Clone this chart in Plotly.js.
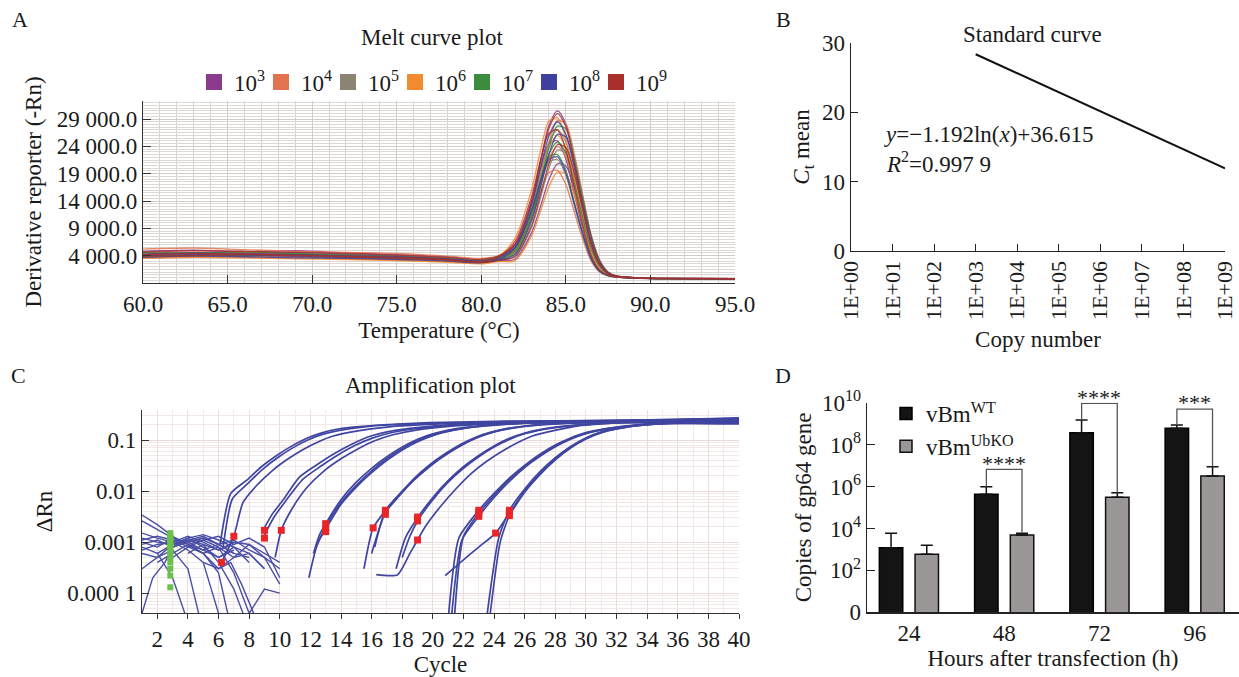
<!DOCTYPE html>
<html><head><meta charset="utf-8">
<script src="https://cdn.plot.ly/plotly-3.0.1.min.js"></script>
<style>html,body{margin:0;padding:0;background:#fff;}#chart{width:1239px;height:677px;}</style>
</head><body><div id="chart"></div>
<script>
// ================= Panel A: melt curves =================
const meltTemp = [60,63,66,69,72,75,78,80,81,82,83,83.5,84,84.5,85,85.5,86,86.5,87,87.5,88,89,91,95];
const meltLabels = ['10<sup>3</sup>','10<sup>4</sup>','10<sup>5</sup>','10<sup>6</sup>','10<sup>7</sup>','10<sup>8</sup>','10<sup>9</sup>'];
const melt1e3 = [
 [4800,5000,4700,4900,4500,4200,3800,3300,3900,6100,14300,21300,27800,30500,28100,21400,13400,6400,2400,760,180,-50,-200,-250],
 [4300,4500,4400,4600,4200,3900,3500,3000,3800,6100,14000,19900,24500,25000,21700,15300,8900,3800,1300,380,100,-100,-150,-300],
 [3900,4100,4000,3800,3700,3500,3200,2800,3100,3400,8400,13000,17900,20800,20400,16400,10900,5700,2300,740,210,0,-150,-200]];
const melt1e4 = [
 [5200,5400,5100,4800,4600,4400,3900,3500,3900,4600,11600,18000,24700,28700,28100,22600,15100,7800,3200,1000,290,0,-200,-250],
 [4000,4200,4300,4100,3900,3600,3300,2900,3400,4800,11300,16800,21800,24000,22100,16800,10600,5000,1900,600,140,-50,-200,-250],
 [3600,3800,3700,3900,3500,3300,3000,2700,3300,4800,11000,15600,19200,19600,17000,12000,7000,3000,1000,300,80,-100,-200,-250]];
const melt1e5 = [
 [4500,4300,4600,4400,4100,3900,3600,3200,3700,5400,12700,18900,24600,27000,24800,18900,11900,5700,2200,680,160,-50,-200,-250],
 [4100,4300,4200,4000,3800,3700,3400,3000,3300,3800,9400,14600,20000,23300,22800,18300,12200,6300,2600,820,240,0,-150,-200],
 [3800,4000,3900,3700,3600,3400,3100,2800,3400,5300,12100,17200,21100,21600,18700,13200,7700,3300,1100,330,90,-100,-200,-300]];
const melt1e6 = [
 [4400,4600,4500,4300,4000,3800,3400,3000,3800,7200,16400,23200,28600,29200,25300,17900,10400,4500,1500,450,120,-50,-200,-250],
 [3700,3900,3800,3600,3400,3200,2900,2600,3200,5200,12200,18200,23700,26000,23900,18200,11400,5500,2100,650,160,-50,-150,-200],
 [3500,3700,3600,3400,3300,3100,2800,2500,2900,3100,7800,12100,16600,19300,18900,15200,10100,5300,2100,680,200,0,-150,-200]];
const melt1e7 = [
 [4200,4400,4100,4300,3900,3700,3300,2900,3300,4500,11200,17400,23800,27700,27200,21800,14600,7600,3100,980,280,0,-150,-250],
 [3900,4100,4000,4200,3800,3500,3200,2800,3300,5000,11700,17400,22600,24800,22800,17400,10900,5200,2000,620,150,-50,-200,-250],
 [4600,4500,4700,4400,4200,3900,3500,3100,3800,5500,12700,17900,22100,22500,19600,13800,8100,3500,1200,350,90,-100,-200,-300]];
const melt1e8 = [
 [4300,4500,4400,4200,4000,3800,3400,3000,3600,5700,13400,20000,25900,28500,26200,20000,12500,6000,2300,710,170,-50,-200,-250],
 [4000,4200,4100,3900,3700,3600,3300,2900,3200,4200,10600,16400,22500,26200,25700,20700,13800,7200,2900,930,270,0,-150,-200],
 [3700,3900,3800,3600,3500,3300,3000,2700,3300,5400,12400,17600,21600,22100,19100,13500,7900,3400,1100,340,90,-100,-200,-250]];
const melt1e9 = [
 [4700,4900,4800,4600,4400,4100,3700,3300,3900,6000,14100,21000,27300,30000,27600,21000,13200,6300,2400,750,180,-50,-200,-250],
 [4200,4400,4300,4100,3900,3700,3300,2900,3700,6600,15100,21500,26400,27000,23400,16500,9600,4100,1400,410,110,-50,-200,-250],
 [3900,4000,4200,4000,3800,3500,3200,2800,3100,3900,9800,15200,20800,24300,23800,19100,12700,6600,2700,860,250,0,-150,-200]];
const meltColors = ['#8c3a8e','#e2734f','#8c8372','#f28a30','#3b8c3d','#3e41a0','#a8302c'];
const meltYTicks = [4000,9000,14000,19000,24000,29000];
const meltYText = ['4 000.0','9 000.0','14 000.0','19 000.0','24 000.0','29 000.0'];

// ================= Panel B: standard curve =================
const copyNumber = [1e3,1e4,1e5,1e6,1e7,1e8,1e9];
const ctMean = [28.38,25.64,22.89,20.15,17.40,14.66,11.91];
const copyTicks = [1,1e1,1e2,1e3,1e4,1e5,1e6,1e7,1e8,1e9];
const copyTickText = ['1E+00','1E+01','1E+02','1E+03','1E+04','1E+05','1E+06','1E+07','1E+08','1E+09'];

// ================= Panel C: amplification =================
const ampCycles = [
 [6.1,6.8,7.8,8.8,9.8,10.8,11.8,12.8,13.8,14.8,16.8,19.8,24.8,40],
 [6.2,7.0,7.6,8.5,9.5,10.5,11.5,12.5,13.5,15,17,20,25,40],
 [6.3,6.9,7.9,8.9,9.9,10.9,11.9,12.9,13.9,15.4,17.4,20.4,25,40],
 [8.9,9.5,10.2,11.3,12.5,13.6,14.7,15.8,17,18.5,21,25,30,40],
 [8.9,9.6,10.4,11.5,12.7,13.8,14.9,16,17.2,18.7,21.2,25,30,40],
 [9.7,10.1,10.8,11.8,12.9,14,15.1,16.2,17.4,18.9,21.4,25.5,30,40],
 [11.9,12.4,13,14,15,16,17,18,19,20,22,25,30,40],
 [12.2,12.6,13,14,15,16,17,18,19,20,22,25,30,40],
 [12.5,13,14,15,16,17,18,19,20,21,23,26,30,40],
 [15.5,16.1,17,18,19,20,21,22,23,24,26,29,33,40],
 [16.0,16.9,17.8,18.8,19.8,20.8,21.8,22.8,23.8,24.8,26.8,29.8,33,40],
 [16.2,16.9,17.8,18.8,19.8,20.8,21.8,22.8,23.8,24.8,26.8,29.8,33,40],
 [17.6,18.2,19,20,21,22,23,24,25,26,28,31,35,40],
 [18.0,18.5,19,20,21,22,23,24,25,26,28,31,35,40],
 [16.3,17.7,18.5,19,19.5,20.5,21.5,22.5,23.5,24.5,26.5,29.5,33,40],
 [21.0,21.7,23,24,25,26,27,28,29,30,32,35,40],
 [21.2,21.9,23,24,25,26,27,28,29,30,32,35,40],
 [21.4,22.0,23,24,25,26,27,28,29,30,32,35,40],
 [23.5,24.3,25,26,27,28,29,30,31,32,34,37,40],
 [23.7,24.4,25,26,27,28,29,30,31,32,34,37,40],
 [20.8,22,23,24.1,25,26,27,28,29,30,31,32,34,37,40]];
const ampRn = [
 [0.0009,0.009,0.016,0.03,0.05,0.077,0.11,0.14,0.165,0.18,0.2,0.22,0.235,0.25],
 [0.0004,0.0013,0.006,0.013,0.025,0.042,0.065,0.092,0.12,0.15,0.18,0.205,0.225,0.21],
 [0.0008,0.007,0.014,0.027,0.046,0.072,0.103,0.132,0.155,0.18,0.2,0.215,0.23,0.26],
 [0.0017,0.0035,0.0066,0.019,0.034,0.055,0.083,0.116,0.145,0.17,0.2,0.22,0.235,0.245],
 [0.0012,0.003,0.0065,0.017,0.031,0.051,0.078,0.108,0.138,0.165,0.195,0.22,0.235,0.27],
 [0.0005,0.0017,0.0045,0.012,0.025,0.043,0.067,0.097,0.127,0.157,0.19,0.215,0.23,0.22],
 [0.0002,0.0008,0.002,0.006,0.013,0.025,0.043,0.068,0.098,0.128,0.17,0.205,0.23,0.245],
 [0.0006,0.0014,0.0023,0.0068,0.015,0.028,0.047,0.073,0.104,0.133,0.175,0.21,0.23,0.265],
 [0.001,0.0018,0.0055,0.012,0.023,0.04,0.064,0.093,0.122,0.148,0.185,0.215,0.23,0.215],
 [0.0003,0.0019,0.0045,0.01,0.019,0.034,0.055,0.083,0.115,0.145,0.185,0.215,0.23,0.24],
 [0.0006,0.0038,0.008,0.017,0.031,0.051,0.078,0.11,0.14,0.165,0.2,0.22,0.235,0.27],
 [0.0008,0.0042,0.0085,0.018,0.033,0.054,0.082,0.114,0.143,0.168,0.2,0.225,0.235,0.255],
 [0.0003,0.0012,0.003,0.0075,0.016,0.03,0.05,0.077,0.108,0.138,0.18,0.215,0.235,0.245],
 [0.0005,0.0013,0.0026,0.0068,0.015,0.028,0.047,0.073,0.103,0.133,0.175,0.21,0.23,0.22],
 [0.00023,0.00023,0.0006,0.0011,0.002,0.005,0.011,0.022,0.038,0.06,0.12,0.19,0.225,0.26],
 [0.00003,0.0012,0.0042,0.009,0.018,0.032,0.053,0.08,0.11,0.14,0.18,0.215,0.245],
 [0.00003,0.0011,0.0032,0.0075,0.0155,0.029,0.048,0.074,0.104,0.134,0.175,0.21,0.21],
 [0.00003,0.0013,0.0037,0.0082,0.017,0.031,0.051,0.077,0.107,0.137,0.178,0.212,0.27],
 [0.00003,0.0012,0.0042,0.011,0.024,0.045,0.075,0.11,0.145,0.17,0.205,0.23,0.24],
 [0.00003,0.001,0.0033,0.0095,0.021,0.041,0.07,0.105,0.14,0.165,0.2,0.225,0.23],
 [0.00022,0.00045,0.0008,0.0015,0.0037,0.01,0.022,0.043,0.073,0.108,0.14,0.165,0.2,0.225,0.25]];
const noiseCycles = [
 [1,2,3,4,5,6],[1,2,3,4,5,6,7],[1,2,3,4,5,6,7,8],[1,2,3,4,5,6],[1,2,3,4,5,6,7],
 [1,2,3,4,4.7],[1,1.7,2.5,3,4,5],[3,4,5,6,7,8,9,10],[3,4,5,6,7,8,9,10],
 [2,3,4,5,6,6.8,7.5,8.3],[4,5,6,7,8,9],[5,6,7,8,9,10],[6,7,8,9,10],
 [1,2,3,4,5,6,7,8],[1,2,3,4,5,6,6.6],[1,2,3,3.8],[2,3,4,5,6,7,8,9,10],
 [1,2,3,4,5,6,7],[4,5,6,7,7.6],[1,2,3,4,5,6,7,8,9]];
const noiseRn = [
 [0.0034,0.0022,0.0013,0.0009,0.0011,0.0008],
 [0.0012,0.001,0.0009,0.0011,0.0013,0.0009,0.0006],
 [0.0009,0.0011,0.0008,0.0012,0.0014,0.0011,0.0008,0.0004],
 [0.0007,0.0009,0.001,0.0007,0.0004,0.00004],
 [0.0006,0.0005,0.0009,0.0012,0.0008,0.0005,0.0007],
 [0.0003,0.0005,0.0007,0.0003,0.00004],
 [0.00004,0.0002,0.0004,0.0008,0.001,0.0012],
 [0.0008,0.001,0.0012,0.0009,0.0011,0.0007,0.0005,0.0003],
 [0.0005,0.0008,0.0011,0.0013,0.0009,0.0012,0.0008,0.0002],
 [0.0004,0.0006,0.0009,0.0006,0.0003,0.0004,0.00015,0.00004],
 [0.0009,0.0007,0.0005,0.0008,0.0006,0.0003],
 [0.0004,0.0003,0.0005,0.0009,0.0005,0.00015],
 [0.0008,0.00025,0.00004,0.00012,0.0001],
 [0.0026,0.0018,0.0012,0.001,0.0007,0.0009,0.0006,0.0005],
 [0.0011,0.0013,0.0011,0.0008,0.0006,0.00025,0.00004],
 [0.0008,0.0006,0.0002,0.00004],
 [0.0006,0.0009,0.0011,0.0009,0.0007,0.001,0.0009,0.0006,0.0004],
 [0.0015,0.0012,0.001,0.0013,0.001,0.0007,0.0009],
 [0.0006,0.0009,0.0004,0.00012,0.00004],
 [0.001,0.0008,0.0012,0.0009,0.0006,0.0008,0.0005,0.0006,0.0003]];
const ctCycle = [6.2,7.0,9.0,9.0,10.1,13.0,13.0,13.0,16.1,16.9,16.9,19.0,19.0,19.0,23.0,23.0,23.0,24.1,25.0,25.0,25.0];
const ctRn = [0.0004,0.0013,0.0017,0.0012,0.0017,0.0018,0.0023,0.0016,0.0019,0.0035,0.0042,0.0031,0.0026,0.0011,0.0042,0.0032,0.0037,0.0015,0.0042,0.0033,0.0037];
const startCycle = [2.85,2.85,2.85,2.85,2.85,2.85,2.85,2.85,2.85,2.85,2.85,2.85,2.85,2.85];
const startRn = [0.00013,0.00022,0.0003,0.0004,0.0005,0.0006,0.0007,0.0008,0.0009,0.001,0.0011,0.0012,0.0013,0.0015];
const rnTicks = [0.0001,0.001,0.01,0.1];
const rnTickText = ['0.000 1','0.001','0.01','0.1'];

// ================= Panel D: gp64 copies =================
const hours = ['24','48','72','96'];
const wtMean = [1200,4.3e5,3.7e8,6.0e8];
const wtSD = [4700,5.5e5,1.13e9,2.7e8];
const koMean = [590,4900,3.1e5,3.2e6];
const koSD = [990,1000,2.0e5,5.7e6];
const sigLabels = ['','****','****','***'];
const copyAxisTicks = [1,1e2,1e4,1e6,1e8,1e10];
const copyAxisText = ['0','10<sup>2</sup>','10<sup>4</sup>','10<sup>6</sup>','10<sup>8</sup>','10<sup>10</sup>'];

// ---- style / position constants (not data) ----
const FONT = 'Liberation Serif, Times New Roman, serif';
const INK = '#1a1a1a';
const FS = 23;
const sigBracketTop = [null,6.6e6,9.3e9,4.9e9];
const sigTextPx = [null,463,397.5,402];   // vertical pixel position of the star labels
const barOffset = 0.187;

const traces = [];
const meltGroups = [melt1e3,melt1e4,melt1e5,melt1e6,melt1e7,melt1e8,melt1e9];
meltGroups.forEach((grp,gi)=>{
  grp.forEach(vals=>{
    traces.push({type:'scatter',mode:'lines',x:meltTemp,y:vals,xaxis:'x',yaxis:'y',
      line:{color:meltColors[gi],width:1.3,shape:'spline',smoothing:0.8},opacity:0.85,
      showlegend:false,hoverinfo:'skip'});
  });
});
meltLabels.forEach((lab,gi)=>{
  traces.push({type:'scatter',mode:'markers',x:[null],y:[null],xaxis:'x',yaxis:'y',name:lab,
    marker:{symbol:'square',size:16,color:meltColors[gi]},legend:'legend',showlegend:true});
});
// spacer entry so the last legend label is not clipped
traces.push({type:'scatter',mode:'markers',x:[null],y:[null],xaxis:'x',yaxis:'y',name:' ',
  marker:{symbol:'square',size:1,color:'rgba(0,0,0,0)'},legend:'legend',showlegend:true});
traces.push({type:'scatter',mode:'lines',x:copyNumber,y:ctMean,xaxis:'x2',yaxis:'y2',
  line:{color:'#111',width:2},showlegend:false});
noiseCycles.forEach((xc,i)=>{
  traces.push({type:'scatter',mode:'lines',x:xc,y:noiseRn[i],xaxis:'x3',yaxis:'y3',
    line:{color:'#4a4fa6',width:1.4},showlegend:false,hoverinfo:'skip'});
});
ampCycles.forEach((xc,i)=>{
  traces.push({type:'scatter',mode:'lines',x:xc,y:ampRn[i],xaxis:'x3',yaxis:'y3',
    line:{color:'#3f45a0',width:1.7,shape:'spline',smoothing:0.6},showlegend:false,hoverinfo:'skip'});
});
traces.push({type:'scatter',mode:'markers',x:startCycle,y:startRn,xaxis:'x3',yaxis:'y3',
  marker:{symbol:'square',size:6,color:'#6cc04a'},showlegend:false});
traces.push({type:'scatter',mode:'markers',x:ctCycle,y:ctRn,xaxis:'x3',yaxis:'y3',
  marker:{symbol:'square',size:7,color:'#e8262a'},showlegend:false});
const idx = hours.map((h,i)=>i);
traces.push({type:'bar',name:'vBm<sup>WT</sup>',x:idx,y:wtMean,xaxis:'x4',yaxis:'y4',
  marker:{color:'#141414',line:{color:'#000',width:1.5}},
  error_y:{type:'data',symmetric:false,array:wtSD,arrayminus:wtSD.map(()=>0),color:'#111',thickness:1.5,width:6},
  legend:'legend2'});
traces.push({type:'bar',name:'vBm<sup>UbKO</sup>',x:idx,y:koMean,xaxis:'x4',yaxis:'y4',
  marker:{color:'#9b9797',line:{color:'#111',width:1.5}},
  error_y:{type:'data',symmetric:false,array:koSD,arrayminus:koSD.map(()=>0),color:'#111',thickness:1.5,width:6},
  legend:'legend2'});

const W=1239,H=677;
const px = v=>v/W, py = v=>1-v/H;
const starAnn = [];
sigLabels.forEach((lab,i)=>{
  if(!lab) return;
  traces.push({type:'scatter',mode:'lines',xaxis:'x4',yaxis:'y4',showlegend:false,hoverinfo:'skip',
    x:[i-barOffset,i-barOffset,i+barOffset,i+barOffset],
    y:[wtMean[i]+wtSD[i],sigBracketTop[i],sigBracketTop[i],koMean[i]+koSD[i]],
    line:{color:'#555',width:1.3}});
  starAnn.push({text:lab,xref:'x4',yref:'paper',x:i,y:py(sigTextPx[i]),xanchor:'center',yanchor:'middle',
    showarrow:false,font:{family:FONT,size:22,color:INK}});
});

const tickFont = {family:FONT,size:FS,color:INK};
const titleFont = {family:FONT,size:FS,color:INK};
const paperText = (t,x,y,opt)=>Object.assign({text:t,x:px(x),y:py(y),xref:'paper',yref:'paper',
  xanchor:'center',yanchor:'middle',showarrow:false,font:titleFont},opt||{});

const layout = {
  width:W,height:H,margin:{l:0,r:0,t:0,b:0},paper_bgcolor:'#fff',plot_bgcolor:'#fff',
  font:{family:FONT,size:FS,color:INK},
  barmode:'group',bargap:0.25,bargroupgap:0.344,
  showlegend:true,
  legend:{orientation:'h',x:px(462),xanchor:'center',y:py(82),yanchor:'middle',
    font:{family:FONT,size:FS,color:INK},itemwidth:30,entrywidth:22,entrywidthmode:'pixels',
    bgcolor:'rgba(0,0,0,0)',tracegroupgap:0},
  legend2:{x:px(886),xanchor:'left',y:py(392),yanchor:'top',font:{family:FONT,size:FS,color:INK},
    bgcolor:'rgba(0,0,0,0)',itemwidth:30,tracegroupgap:0},
  xaxis:{domain:[px(143),px(735)],anchor:'y',range:[60,95],dtick:5,tick0:60,tickformat:'.1f',
    showline:true,linecolor:'#333',linewidth:1.2,ticks:'inside',ticklen:8,tickcolor:'#333',
    showgrid:true,gridcolor:'#d2ccc6',gridwidth:1,zeroline:false,
    minor:{dtick:1,showgrid:true,gridcolor:'#d8d3ce',ticks:''},
    tickfont:tickFont,title:{text:'Temperature (°C)',font:titleFont,standoff:6}},
  yaxis:{domain:[py(283),py(101)],anchor:'x',range:[-1000,32300],tickmode:'array',
    tickvals:meltYTicks,ticktext:meltYText,
    showline:true,linecolor:'#333',linewidth:1.2,ticks:'inside',ticklen:8,tickcolor:'#333',
    showgrid:true,gridcolor:'#d2ccc6',zeroline:false,
    minor:{dtick:500,tick0:0,showgrid:true,gridcolor:'#ddd8d3',ticks:''},
    tickfont:tickFont,title:{text:'Derivative reporter (-Rn)',font:titleFont,standoff:8}},
  xaxis2:{domain:[px(851),px(1225)],anchor:'y2',type:'log',range:[0,9],tickmode:'array',
    tickvals:copyTicks,ticktext:copyTickText,tickangle:-90,
    showline:true,linecolor:'#222',linewidth:1.3,ticks:'inside',ticklen:7,tickcolor:'#222',
    showgrid:false,zeroline:false,tickfont:{family:FONT,size:22,color:INK},
    title:{text:'Copy number',font:titleFont,standoff:12}},
  yaxis2:{domain:[py(251),py(43)],anchor:'x2',range:[0,30],dtick:10,
    showline:true,linecolor:'#222',linewidth:1.3,ticks:'inside',ticklen:7,tickcolor:'#222',
    showgrid:false,zeroline:false,tickfont:tickFont,
    title:{text:'<i>C</i><sub>t</sub> mean',font:titleFont,standoff:6}},
  xaxis3:{domain:[px(142),px(739)],anchor:'y3',range:[1,40],dtick:2,tick0:0,
    showline:true,linecolor:'#333',linewidth:1.2,ticks:'outside',ticklen:5,tickcolor:'#333',
    showgrid:true,gridcolor:'#eddcdc',zeroline:false,
    minor:{dtick:1,showgrid:true,gridcolor:'#f3e9e9',ticks:''},
    tickfont:tickFont,title:{text:'Cycle',font:titleFont,standoff:6}},
  yaxis3:{domain:[py(613),py(410)],anchor:'x3',type:'log',range:[-4.39,-0.41],tickmode:'array',
    tickvals:rnTicks,ticktext:rnTickText,
    showline:true,linecolor:'#333',linewidth:1.2,ticks:'inside',ticklen:7,tickcolor:'#333',
    showgrid:true,gridcolor:'#ecdada',zeroline:false,
    minor:{dtick:'D1',showgrid:true,gridcolor:'#f3e8e8',ticks:''},
    tickfont:tickFont,title:{text:'ΔRn',font:titleFont,standoff:8}},
  xaxis4:{domain:[px(867),1],anchor:'y4',range:[-0.44,3.465],tickmode:'array',tickvals:idx,ticktext:hours,
    showline:true,linecolor:'#222',linewidth:1.3,ticks:'',showgrid:false,zeroline:false,
    tickfont:tickFont,title:{text:'Hours after transfection (h)',font:titleFont,standoff:4}},
  yaxis4:{domain:[py(612.3),py(402.7)],anchor:'x4',type:'log',range:[0,10],tickmode:'array',
    tickvals:copyAxisTicks,ticktext:copyAxisText,
    showline:true,linecolor:'#222',linewidth:1.3,ticks:'inside',ticklen:8,tickcolor:'#222',
    showgrid:false,zeroline:false,tickfont:tickFont,
    title:{text:'Copies of gp64 gene',font:titleFont,standoff:4}},
  annotations:[
    paperText('A',20,20,{font:{family:FONT,size:22,color:INK}}),
    paperText('B',783,20,{font:{family:FONT,size:22,color:INK}}),
    paperText('C',18,375,{font:{family:FONT,size:22,color:INK}}),
    paperText('D',783,375,{font:{family:FONT,size:22,color:INK}}),
    paperText('Melt curve plot',432,37),
    paperText('Standard curve',1032,35),
    paperText('Amplification plot',430,385),
    paperText('<i>y</i>=−1.192ln(<i>x</i>)+36.615',882,135,{xanchor:'left'}),
    paperText('<i>R</i><sup>2</sup>=0.997 9',884,163,{xanchor:'left'})
  ].concat(starAnn)
};
Plotly.newPlot('chart',traces,layout,{displayModeBar:false,staticPlot:true});
</script></body></html>
